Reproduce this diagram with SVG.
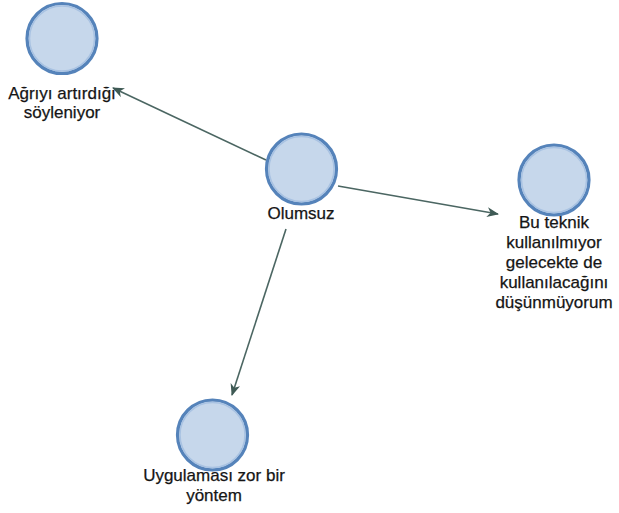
<svg xmlns="http://www.w3.org/2000/svg" width="619" height="513" viewBox="0 0 619 513">
  <style>
    .ring { fill: #c6d7eb; stroke: #5583ba; stroke-width: 3.2; }
    .inner { fill: none; stroke: #a8c2e2; stroke-width: 1.5; }
    .label { font-family: "Liberation Sans", Arial, sans-serif; font-size: 17px; fill: #151515; stroke: #151515; stroke-width: 0.25; text-anchor: middle; }
    .edge { stroke: #4b6662; stroke-width: 1.6; fill: none; marker-end: url(#arrow); }
  </style>
  <defs>
    <marker id="arrow" viewBox="0 0 12 10" refX="11" refY="5" markerWidth="12" markerHeight="10" markerUnits="userSpaceOnUse" orient="auto">
      <path d="M0,0 L12,5 L0,10 L3.5,5 z" fill="#3f5a55"/>
    </marker>
  </defs>
  <rect width="619" height="513" fill="#ffffff"/>

  <g id="connectors">
    <line class="edge" x1="266" y1="160" x2="113" y2="88"/>
    <line class="edge" x1="338" y1="186" x2="498" y2="214"/>
    <line class="edge" x1="286" y1="229" x2="232" y2="395"/>
  </g>

  <g id="node-olumsuz">
    <circle class="ring" cx="301.5" cy="169" r="35"/>
    <circle class="inner" cx="301.5" cy="169" r="32.5"/>
    <text class="label" x="301" y="219">Olumsuz</text>
  </g>

  <g id="node-agriyi">
    <circle class="ring" cx="62" cy="38.5" r="35"/>
    <circle class="inner" cx="62" cy="38.5" r="32.5"/>
    <text class="label" x="62" y="99">Ağrıyı artırdığı</text>
    <text class="label" x="62" y="118">söyleniyor</text>
  </g>

  <g id="node-bu-teknik">
    <circle class="ring" cx="554" cy="180" r="35"/>
    <circle class="inner" cx="554" cy="180" r="32.5"/>
    <text class="label" x="554" y="228">Bu teknik</text>
    <text class="label" x="554" y="248">kullanılmıyor</text>
    <text class="label" x="554" y="268">gelecekte de</text>
    <text class="label" x="554" y="288">kullanılacağını</text>
    <text class="label" x="554" y="308">düşünmüyorum</text>
  </g>

  <g id="node-uygulamasi">
    <circle class="ring" cx="212.5" cy="435" r="35"/>
    <circle class="inner" cx="212.5" cy="435" r="32.5"/>
    <text class="label" x="214" y="481">Uygulaması zor bir</text>
    <text class="label" x="214" y="501">yöntem</text>
  </g>
</svg>
